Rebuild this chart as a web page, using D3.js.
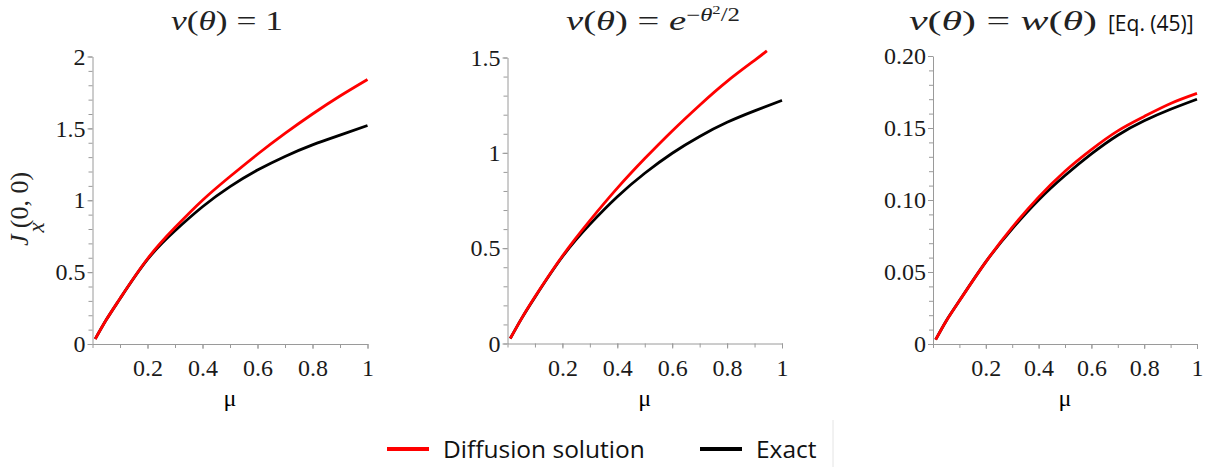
<!DOCTYPE html>
<html>
<head>
<meta charset="utf-8">
<script src="https://cdn.jsdelivr.net/npm/d3@7"></script>
<style>
  body { margin: 0; background: #fff; }
  svg { display: block; }
</style>
</head>
<body>
<svg id="chart" width="1211" height="467"></svg>
<script>
'use strict'

// mu grid
var mu = [0.01, 0.05, 0.1, 0.2, 0.3, 0.4, 0.5, 0.6, 0.7, 0.8, 0.9, 1.0];
// red curve of the middle panel leaves the view near mu = 0.945
var muDiff2 = [0.01, 0.05, 0.1, 0.2, 0.3, 0.4, 0.5, 0.6, 0.7, 0.8, 0.9, 0.945];

// v(theta) = 1
var diff1  = [0.035, 0.168, 0.316, 0.593, 0.81, 1.00, 1.165, 1.32, 1.465, 1.60, 1.725, 1.84];
var exact1 = [0.035, 0.168, 0.315, 0.588, 0.788, 0.955, 1.095, 1.21, 1.305, 1.385, 1.453, 1.52];

// v(theta) = exp(-theta^2/2)
var diff2  = [0.026, 0.128, 0.245, 0.459, 0.645, 0.815, 0.97, 1.115, 1.25, 1.375, 1.485, 1.535];
var exact2 = [0.026, 0.128, 0.243, 0.455, 0.625, 0.77, 0.893, 0.998, 1.086, 1.16, 1.22, 1.275];

// v(theta) = w(theta)
var diff3  = [0.003, 0.016, 0.030, 0.057, 0.081, 0.102, 0.120, 0.135, 0.148, 0.158, 0.167, 0.174];
var exact3 = [0.003, 0.016, 0.030, 0.057, 0.080, 0.100, 0.117, 0.132, 0.145, 0.155, 0.163, 0.170];

var xTicks = [0.2, 0.4, 0.6, 0.8, 1];
var yTicks1 = [0, 0.5, 1, 1.5, 2];
var yTicks2 = [0, 0.5, 1, 1.5];
var yTicks3 = [0, 0.05, 0.10, 0.15, 0.20];

var seriesNames = ["Diffusion solution", "Exact"];
var seriesColors = ["#ff0000", "#000000"];

var panels = [
  { left: 92.5, right: 367.5, top: 56.5, bottom: 344, ymax: 2, step: 0.1,
    yTicks: yTicks1, fmt: d3.format(""),
    lines: [[mu, diff1], [mu, exact1]] },
  { left: 507.5, right: 782, top: 57.5, bottom: 343.5, ymax: 1.5, step: 0.1,
    yTicks: yTicks2, fmt: d3.format(""),
    lines: [[muDiff2, diff2], [mu, exact2]] },
  { left: 933, right: 1197, top: 56, bottom: 344, ymax: 0.2, step: 0.01,
    yTicks: yTicks3, fmt: function(d) { return d === 0 ? "0" : d3.format(".2f")(d); },
    lines: [[mu, diff3], [mu, exact3]] }
];

var svg = d3.select("#chart");
var axisGrey = "#9a9a9a";
var SERIF = "'Liberation Serif'";
var SANS = "'Open Sans'";

panels.forEach(function(p, i) {
  var x = d3.scaleLinear().domain([0, 1]).range([p.left, p.right]);
  var y = d3.scaleLinear().domain([0, p.ymax]).range([p.bottom, p.top]);
  var g = svg.append("g");

  var minorX = d3.range(0, 10.5).map(function(k) { return k / 10; });
  var nY = Math.round(p.ymax / p.step);
  var minorY = d3.range(0, nY + 1).map(function(k) { return k * p.step; });

  // minor ticks
  g.append("g").attr("transform", "translate(0," + p.bottom + ")")
    .call(d3.axisBottom(x).tickValues(minorX).tickSize(4).tickSizeOuter(0).tickFormat(""));
  g.append("g").attr("transform", "translate(" + p.left + ",0)")
    .call(d3.axisLeft(y).tickValues(minorY).tickSize(4).tickSizeOuter(0).tickFormat(""));

  // labelled ticks
  g.append("g").attr("transform", "translate(0," + p.bottom + ")")
    .call(d3.axisBottom(x).tickValues(xTicks).tickSize(5).tickSizeOuter(0).tickPadding(10).tickFormat(d3.format("")))
    .call(function(a) { a.select(".domain").remove(); });
  g.append("g").attr("transform", "translate(" + p.left + ",0)")
    .call(d3.axisLeft(y).tickValues(p.yTicks).tickSize(5).tickSizeOuter(0).tickPadding(2).tickFormat(p.fmt))
    .call(function(a) { a.select(".domain").remove(); });

  g.selectAll(".domain, .tick line").attr("stroke", axisGrey).attr("stroke-width", 1);
  g.selectAll(".tick text")
    .style("font-family", SERIF).style("font-size", "24px").attr("fill", "#1a1a1a");

  // x axis title
  g.append("text")
    .attr("x", (p.left + p.right) / 2).attr("y", 406)
    .attr("text-anchor", "middle")
    .style("font-family", SERIF).style("font-size", "24px")
    .text("\u03bc");

  var line = d3.line()
    .x(function(d) { return x(d[0]); })
    .y(function(d) { return y(d[1]); })
    .curve(d3.curveNatural);

  p.lines.forEach(function(s, j) {
    g.append("path")
      .datum(d3.zip(s[0], s[1]))
      .attr("class", "curve s" + j)
      .attr("fill", "none")
      .attr("stroke", seriesColors[j])
      .attr("stroke-width", 2.8)
      .attr("d", line);
  });
});

// the red curve goes over black, so raise red paths in every panel
svg.selectAll("path.s0").raise();

// titles: Cambria-like math sits wider than Times, so widen toward the reference
function title(x0, width, parts) {
  var t = svg.append("text")
    .attr("x", x0).attr("y", 30)
    .attr("textLength", width).attr("lengthAdjust", "spacingAndGlyphs")
    .style("font-family", SERIF)
    .style("font-size", "28px").attr("fill", "#222");
  parts.forEach(function(q) {
    var s = t.append("tspan").text(q.t);
    if (q.i) s.style("font-style", "italic");
    if (q.s) s.style("font-size", q.s + "px");
    if (q.dy) s.attr("dy", q.dy);
  });
  return t;
}

title(171, 112, [
  { t: "v", i: 1 }, { t: "(" }, { t: "\u03b8", i: 1 }, { t: ") = 1" }
]);
title(566, 174, [
  { t: "v", i: 1 }, { t: "(" }, { t: "\u03b8", i: 1 }, { t: ") = " }, { t: "e", i: 1 },
  { t: "\u2212", s: 18, dy: -9 }, { t: "\u03b8", i: 1, s: 18 }, { t: "2", s: 12, dy: -7 },
  { t: "/2", s: 18, dy: 7 }
]);
title(909, 188, [
  { t: "v", i: 1 }, { t: "(" }, { t: "\u03b8", i: 1 }, { t: ") = " }, { t: "w", i: 1 },
  { t: "(" }, { t: "\u03b8", i: 1 }, { t: ")" }
]);
svg.append("text")
  .attr("x", 1108).attr("y", 31)
  .style("font-family", SANS).style("font-size", "21px").attr("fill", "#111")
  .text("[Eq. (45)]");

// y axis title of the first panel
var yl = svg.append("text")
  .attr("transform", "translate(28,246) rotate(-90)")
  .style("font-family", SERIF).style("font-size", "26px").attr("fill", "#222");
yl.append("tspan").style("font-style", "italic").text("J");
yl.append("tspan").style("font-style", "italic").style("font-size", "23px").attr("dy", 16).attr("dx", 2).text("x");
yl.append("tspan").attr("dy", -16).attr("dx", -6).text("(0, 0)");

// legend
var legend = svg.append("g");
var legendX = [387, 700];
seriesNames.forEach(function(name, j) {
  legend.append("line")
    .attr("x1", legendX[j]).attr("x2", legendX[j] + 42)
    .attr("y1", 449).attr("y2", 449)
    .attr("stroke", seriesColors[j]).attr("stroke-width", 4);
  legend.append("text")
    .attr("x", legendX[j] + 56).attr("y", 458)
    .style("font-family", SANS).style("font-size", "24.5px").attr("fill", "#111")
    .text(name);
});
legend.append("line")
  .attr("x1", 833).attr("x2", 833).attr("y1", 420).attr("y2", 467)
  .attr("stroke", "#e4e4e4").attr("stroke-width", 1);
</script>
</body>
</html>
